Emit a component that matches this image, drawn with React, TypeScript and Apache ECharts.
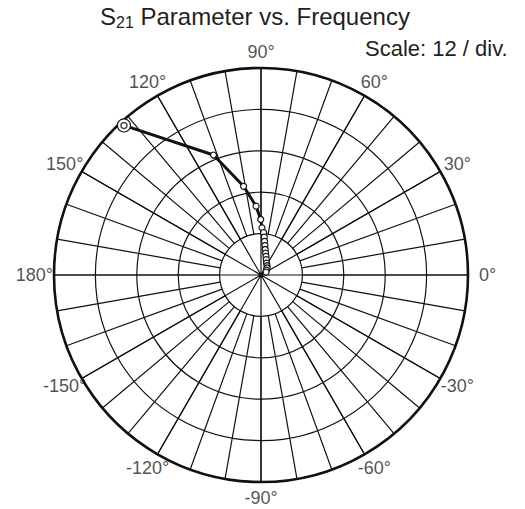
import React, { useEffect, useRef } from 'react';
import * as echarts from 'echarts';

// ---- text ----
const TITLE_MAIN = 'S';
const TITLE_SUB = '21';
const TITLE_REST = ' Parameter vs. Frequency';
const SCALE_TEXT = 'Scale: 12 / div.';

// ---- axes ----
const RADIUS_MAX = 60;
const RADIUS_STEP = 12;
const ANGLE_LABEL_STEP = 30;
const ANGLE_GRID_STEP = 10;
const ANGLE_TICKS = [0, 30, 60, 90, 120, 150, 180, 210, 240, 270, 300, 330];
const ANGLE_LABEL_RADIUS = 65.7; // where the angle tick labels sit, in scale units

// ---- S21 data (magnitude in scale units, angle in degrees) ----
const s21Magnitude = [58.8, 37.4, 26.2, 20.0, 16.1, 13.7, 12.3, 11.0, 9.8, 8.6, 7.5, 6.5, 5.6, 4.7, 3.8, 3.2, 2.7, 2.1, 1.7];
const s21AngleDeg = [132.5, 111.6, 101.1, 94.1, 90.3, 88.8, 86.5, 85.0, 83.9, 82.3, 80.5, 78.2, 75.0, 71.0, 65.0, 57.0, 49.0, 42.0, 30.0];

export default function App() {
  const ref = useRef<HTMLDivElement>(null);
  useEffect(() => {
    const chart = echarts.init(ref.current as HTMLDivElement, null, { renderer: 'svg' });
    const font = '"Liberation Sans", Arial, Helvetica, sans-serif';
    const ink = '#111';
    const textColor = '#231f20';
    const data = s21Magnitude.map((r, i) => [r, s21AngleDeg[i]]);
    const labelData = ANGLE_TICKS.map((a) => ({
      value: [ANGLE_LABEL_RADIUS, a],
      // pull the top/bottom labels slightly toward the centre
      label: { offset: [0, 4 * Math.sin((a * Math.PI) / 180)] },
    }));
    const center = [261, 275];
    const R = 207;
    chart.setOption({
      animation: false,
      backgroundColor: '#fff',
      title: {
        text: `{m|${TITLE_MAIN}}{s|${TITLE_SUB}}{m|${TITLE_REST}}`,
        left: 100,
        top: 2,
        padding: 0,
        textStyle: {
          fontWeight: 'normal',
          rich: {
            m: { fontSize: 24, fontWeight: 'normal', fontFamily: font, color: textColor, lineHeight: 28 },
            s: { fontSize: 16, fontWeight: 'normal', fontFamily: font, color: textColor, lineHeight: 14, verticalAlign: 'bottom' },
          },
        },
      },
      graphic: [
        {
          type: 'text',
          left: 365,
          top: 37,
          style: { text: SCALE_TEXT, fontSize: 22, fontFamily: font, fill: textColor },
        },
      ],
      polar: [
        { center, radius: [0, R] },
        { center, radius: [R * RADIUS_STEP / RADIUS_MAX, R] },
      ],
      angleAxis: [
        {
          polarIndex: 0,
          type: 'value',
          min: 0,
          max: 360,
          interval: ANGLE_LABEL_STEP,
          startAngle: 0,
          clockwise: false,
          axisLine: { show: true, lineStyle: { color: ink, width: 2.6 } },
          axisTick: { show: false },
          splitLine: { show: true, lineStyle: { color: ink, width: 1.2 } },
          axisLabel: { show: false },
          z: 1,
        },
        {
          polarIndex: 1,
          type: 'value',
          min: 0,
          max: 360,
          interval: ANGLE_GRID_STEP,
          startAngle: 0,
          clockwise: false,
          axisLine: { show: false },
          axisTick: { show: false },
          axisLabel: { show: false },
          splitLine: { show: true, lineStyle: { color: ink, width: 1.2 } },
        },
      ],
      radiusAxis: [
        {
          polarIndex: 0,
          type: 'value',
          min: 0,
          max: RADIUS_MAX,
          interval: RADIUS_STEP,
          axisLine: { show: false },
          axisTick: { show: false },
          axisLabel: { show: false },
          splitLine: { show: true, lineStyle: { color: ink, width: 1.2 } },
        },
        {
          polarIndex: 1,
          type: 'value',
          min: 0,
          max: RADIUS_MAX,
          show: false,
        },
      ],
      series: [
        {
          type: 'scatter',
          coordinateSystem: 'polar',
          polarIndex: 0,
          data: labelData,
          clip: false,
          silent: true,
          symbol: 'circle',
          symbolSize: 1,
          itemStyle: { color: 'rgba(0,0,0,0)' },
          label: {
            show: true,
            position: 'inside',
            fontSize: 18,
            fontFamily: font,
            color: textColor,
            formatter: (p: any) => {
              const v = p.value[1];
              return `${v > 180 ? v - 360 : v}°`;
            },
          },
          z: 2,
        },
        {
          type: 'line',
          coordinateSystem: 'polar',
          polarIndex: 0,
          data,
          symbol: 'circle',
          symbolSize: (_v: any, p: any) => (p.dataIndex === 0 ? 13 : 6),
          showAllSymbol: true,
          lineStyle: { color: ink, width: 3 },
          itemStyle: { color: '#fff', borderColor: ink, borderWidth: 1.2 },
          z: 5,
        },
        {
          type: 'scatter',
          coordinateSystem: 'polar',
          polarIndex: 0,
          data: [data[0]],
          symbol: 'circle',
          symbolSize: 6,
          itemStyle: { color: '#fff', borderColor: ink, borderWidth: 1.5 },
          z: 6,
        },
      ],
    });
    return () => chart.dispose();
  }, []);
  return <div ref={ref} style={{ position: 'absolute', left: 0, top: 0, width: 525, height: 509 }} />;
}
